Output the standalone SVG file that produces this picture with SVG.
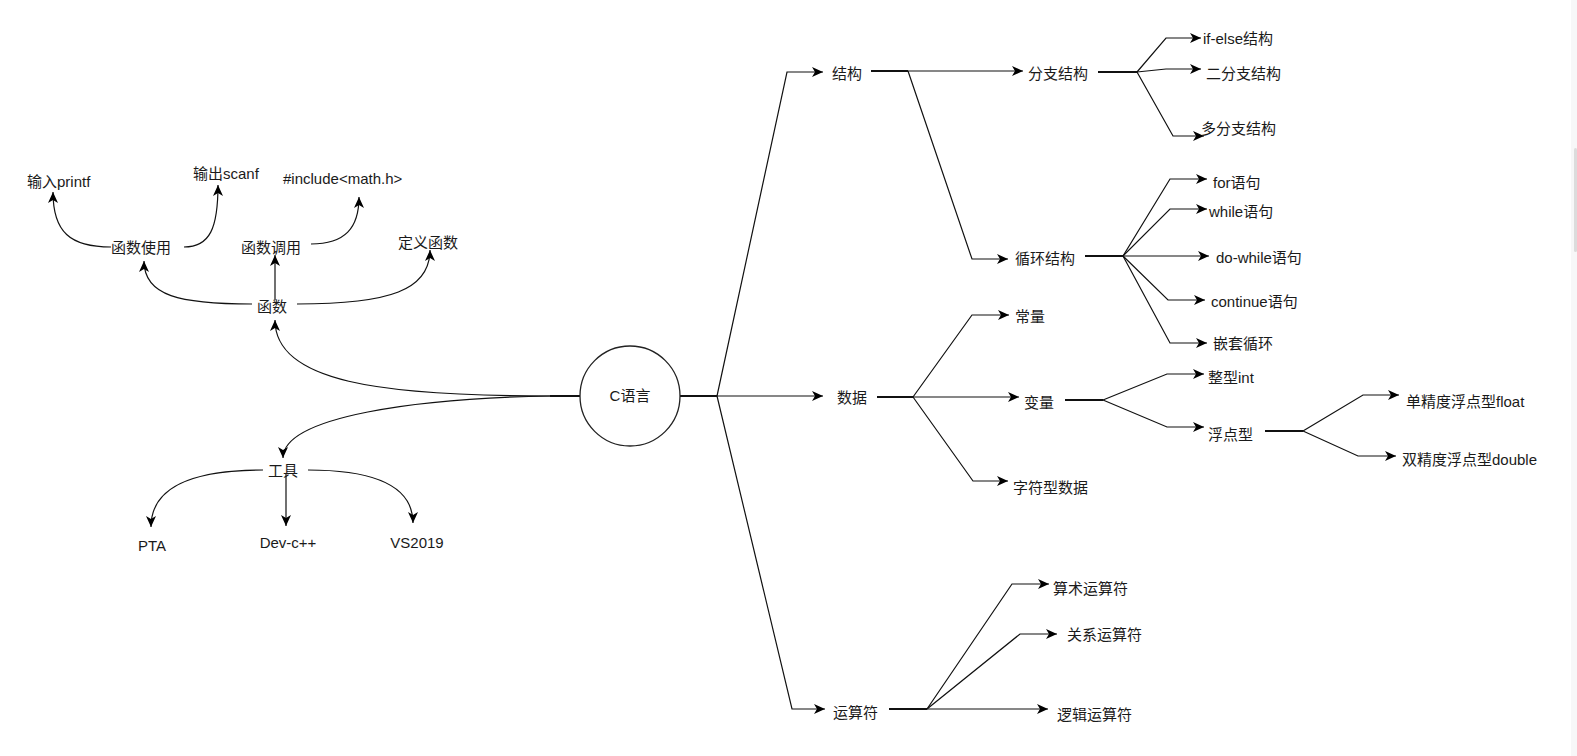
<svg xmlns="http://www.w3.org/2000/svg" width="1577" height="756" viewBox="0 0 1577 756">
<style>
text{font-family:"Liberation Sans","Noto Sans CJK SC",sans-serif;font-size:15px;fill:#1a1a1a}
.m{text-anchor:middle}
.e{fill:none;stroke:#111;stroke-width:1.2;marker-end:url(#arr)}
.s{fill:none;stroke:#111;stroke-width:2}
.n{fill:#fff;stroke:#222;stroke-width:1.3}
</style>
<defs>
<marker id="arr" markerUnits="userSpaceOnUse" markerWidth="12" markerHeight="11" refX="11" refY="5" orient="auto" viewBox="0 0 12 10">
<path d="M0,0 L11,5 L0,10 L3,5 Z" fill="#000"/>
</marker>
</defs>
<rect width="1577" height="756" fill="#fff"/>
<rect x="1571" y="0" width="6" height="756" fill="#f7f7f8"/>
<rect x="1574" y="148" width="3" height="104" rx="1.5" fill="#dcdcdc"/>
<g id="connectors">
<path class="s" d="M680,396 L717,396"/>
<path class="e" d="M717,396 L787,72 L823,72"/>
<path class="e" d="M717,396 L823,396"/>
<path class="e" d="M717,396 L792,709 L825,709"/>
<path class="s" d="M871,71 L908,71"/>
<path class="e" d="M908,71 L1023,71"/>
<path class="e" d="M908,71 L972,259 L1008,259"/>
<path class="s" d="M1098,72 L1137,72"/>
<path class="e" d="M1137,72 L1166,38 L1201,38"/>
<path class="e" d="M1137,72 L1166,69 L1201,69"/>
<path class="e" d="M1137,72 L1173,136 L1204,136"/>
<path class="s" d="M1085,256 L1123,256"/>
<path class="e" d="M1123,256 L1170,179 L1207,179"/>
<path class="e" d="M1123,256 L1170,209 L1207,209"/>
<path class="e" d="M1123,256 L1209,256"/>
<path class="e" d="M1123,256 L1168,300 L1205,300"/>
<path class="e" d="M1123,256 L1170,343 L1207,343"/>
<path class="s" d="M877,397 L913,397"/>
<path class="e" d="M913,397 L972,315 L1009,315"/>
<path class="e" d="M913,397 L1019,397"/>
<path class="e" d="M913,397 L973,481 L1008,481"/>
<path class="s" d="M1065,400 L1103,400"/>
<path class="e" d="M1103,400 L1167,374 L1204,374"/>
<path class="e" d="M1103,400 L1167,427 L1204,427"/>
<path class="s" d="M1265,431 L1303,431"/>
<path class="e" d="M1303,431 L1363,395 L1399,395"/>
<path class="e" d="M1303,431 L1358,456 L1396,456"/>
<path class="s" d="M889,709 L927,709"/>
<path class="e" d="M927,709 L1012,584 L1049,584"/>
<path class="e" d="M927,709 L1020,634 L1057,634"/>
<path class="e" d="M927,709 L1048,709"/>
<path class="s" d="M580,396 L550,396"/>
<path class="e" d="M550,396 C380,396 275,382 275,320"/>
<path class="e" d="M550,396 C420,398 283,416 283,458"/>
<path class="e" d="M252,304 C180,304 144,296 144,261"/>
<path class="e" d="M275,300 L275,255"/>
<path class="e" d="M297,304 C390,304 430,290 430,250"/>
<path class="e" d="M111,247 C70,247 53,232 53,192"/>
<path class="e" d="M184,247 C210,247 218,228 218,185"/>
<path class="e" d="M311,244 C345,244 359,228 359,197"/>
<path class="e" d="M263,470 C185,470 151,490 151,527"/>
<path class="e" d="M286,474 L286,526"/>
<path class="e" d="M308,470 C380,470 413,488 413,523"/>
</g>
<g id="n-c"><circle class="n" cx="630" cy="396" r="50"/><text class="m" x="630" y="401">C语言</text></g>
<g id="n-jiegou"><text x="832" y="79">结构</text></g>
<g id="n-fenzhi"><text x="1028" y="79">分支结构</text></g>
<g id="n-ifelse"><text x="1203" y="44">if-else结构</text></g>
<g id="n-erfenzhi"><text x="1206" y="79">二分支结构</text></g>
<g id="n-duofenzhi"><text x="1201" y="134">多分支结构</text></g>
<g id="n-xunhuan"><text x="1015" y="264">循环结构</text></g>
<g id="n-for"><text x="1213" y="188">for语句</text></g>
<g id="n-while"><text x="1209" y="217">while语句</text></g>
<g id="n-dowhile"><text x="1216" y="263">do-while语句</text></g>
<g id="n-continue"><text x="1211" y="307">continue语句</text></g>
<g id="n-qiantao"><text x="1213" y="349">嵌套循环</text></g>
<g id="n-shuju"><text x="837" y="403">数据</text></g>
<g id="n-changliang"><text x="1015" y="322">常量</text></g>
<g id="n-bianliang"><text x="1024" y="408">变量</text></g>
<g id="n-zifu"><text x="1013" y="493">字符型数据</text></g>
<g id="n-int"><text x="1208" y="383">整型int</text></g>
<g id="n-fudian"><text x="1208" y="440">浮点型</text></g>
<g id="n-float"><text x="1406" y="407">单精度浮点型float</text></g>
<g id="n-double"><text x="1402" y="465">双精度浮点型double</text></g>
<g id="n-yunsuan"><text x="833" y="718">运算符</text></g>
<g id="n-suanshu"><text x="1053" y="594">算术运算符</text></g>
<g id="n-guanxi"><text x="1067" y="640">关系运算符</text></g>
<g id="n-luoji"><text x="1057" y="720">逻辑运算符</text></g>
<g id="n-hanshu"><text x="257" y="312">函数</text></g>
<g id="n-shiyong"><text x="111" y="253">函数使用</text></g>
<g id="n-diaoyong"><text x="241" y="253">函数调用</text></g>
<g id="n-dingyi"><text x="398" y="248">定义函数</text></g>
<g id="n-printf"><text x="27" y="187">输入printf</text></g>
<g id="n-scanf"><text x="193" y="179">输出scanf</text></g>
<g id="n-include"><text x="283" y="184">#include&lt;math.h&gt;</text></g>
<g id="n-gongju"><text x="268" y="476">工具</text></g>
<g id="n-pta"><text class="m" x="152" y="551">PTA</text></g>
<g id="n-dev"><text class="m" x="288" y="548">Dev-c++</text></g>
<g id="n-vs"><text class="m" x="417" y="548">VS2019</text></g>
</svg>
